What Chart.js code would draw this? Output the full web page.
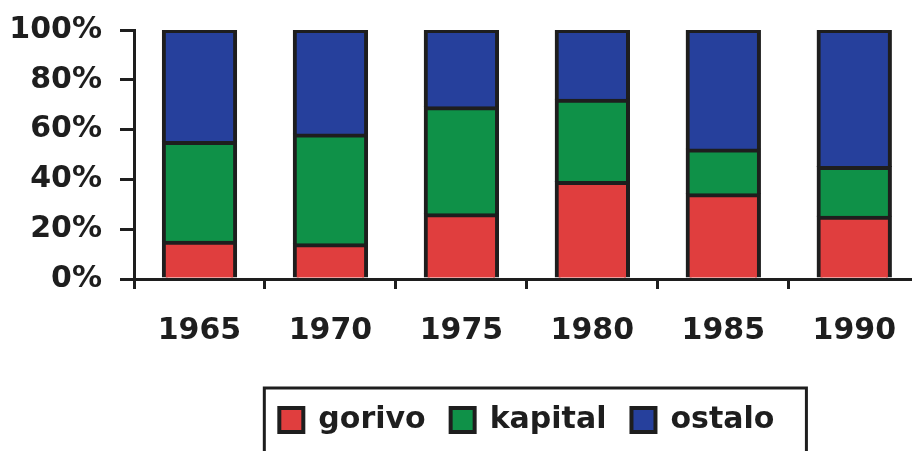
<!DOCTYPE html>
<html>
<head>
<meta charset="utf-8">
<script src="https://cdn.jsdelivr.net/npm/chart.js@4"></script>
<style>
  html, body { margin: 0; padding: 0; background: #fff; overflow: hidden; }
  #wrap { width: 920px; height: 451px; }
</style>
</head>
<body>
<div id="wrap"><canvas id="shareChart"></canvas></div>
<script>
const years = ['1965', '1970', '1975', '1980', '1985', '1990'];
const gorivo = [15, 14, 26, 39, 34, 25];
const kapital = [40, 44, 43, 33, 18, 20];
const ostalo = [45, 42, 31, 28, 48, 55];
const yTicks = [0, 20, 40, 60, 80, 100];

const ink = '#1e1e1e';
const font = { family: '"DejaVu Sans", Arial, sans-serif', weight: 'bold', size: 30 };

// frame round the legend, open at the bottom like the original scan
const legendFrame = {
    id: 'legendFrame',
    afterDraw(chart) {
        const hb = chart.legend?.legendHitBoxes;
        if (!hb || !hb.length) return;
        const last = hb[hb.length - 1];
        const ctx = chart.ctx;
        ctx.save();
        ctx.strokeStyle = ink;
        ctx.lineWidth = 3;
        ctx.strokeRect(hb[0].left - 15, hb[0].top - 17,
            last.left + last.width + 32 - (hb[0].left - 15), chart.height + 20);
        ctx.restore();
    }
};

function part(label, data, color) {
    return {
        label, data,
        backgroundColor: color,
        borderColor: ink,
        borderWidth: 4,
        borderSkipped: 'start',
        inflateAmount: 1,
        barPercentage: 0.56,
        categoryPercentage: 1.0
    };
}

new Chart(document.getElementById('shareChart'), {
    type: 'bar',
    data: {
        labels: years,
        datasets: [
            part('gorivo', gorivo, '#e03e3e'),
            part('kapital', kapital, '#0f9148'),
            part('ostalo', ostalo, '#26409c')
        ]
    },
    options: {
        responsive: true,
        maintainAspectRatio: false,
        animation: false,
        layout: { padding: { top: 30, left: 0, right: 0, bottom: 6 } },
        plugins: {
            tooltip: { enabled: false },
            legend: {
                position: 'bottom',
                fullSize: false,
                labels: {
                    color: ink,
                    font,
                    boxWidth: 24,
                    boxHeight: 24,
                    padding: 25
                }
            }
        },
        scales: {
            x: {
                stacked: true,
                afterFit: s => { s.height = 101; },
                grid: { drawOnChartArea: false, offset: true, color: ink, lineWidth: 3, tickLength: 10 },
                border: { color: ink, width: 3 },
                ticks: { color: ink, font, padding: 24 }
            },
            y: {
                stacked: true,
                min: 0,
                max: 100,
                afterFit: s => { s.width = 134; s.paddingTop = 0; s.paddingBottom = 0; },
                afterBuildTicks: s => { s.ticks = yTicks.map(v => ({ value: v })); },
                grid: { drawOnChartArea: false, color: ink, lineWidth: 3, tickLength: 14 },
                border: { color: ink, width: 3 },
                ticks: { color: ink, font, padding: 18, callback: v => v + '%' }
            }
        }
    },
    plugins: [legendFrame]
});
</script>
</body>
</html>
